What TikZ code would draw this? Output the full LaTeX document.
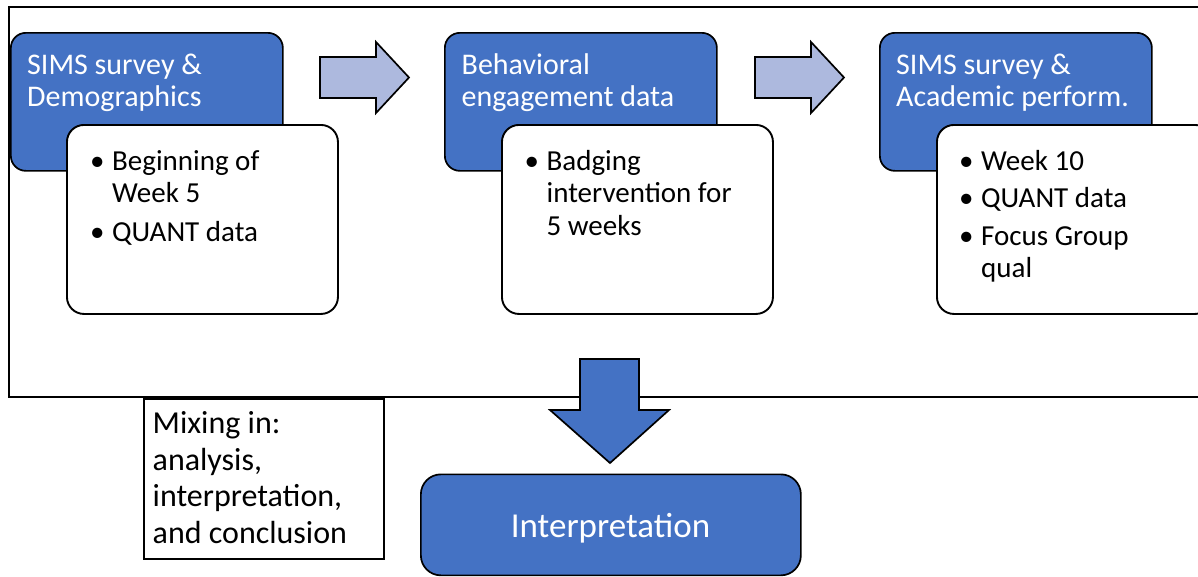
\documentclass[tikz,border=0pt]{standalone}
\usepackage{fontspec}
\setmainfont{Carlito}
\definecolor{accent}{HTML}{4472C4}
\definecolor{lightarrow}{RGB}{173,185,222}

% bullet cell of a list
\newcommand\bul{\makebox[22pt][l]{\textbullet}}

\tikzset{
  phase/.style={draw=black, line width=1.7pt, fill=accent, rounded corners=15pt,
    minimum width=272pt, minimum height=138pt, anchor=north west, inner sep=0pt},
  detail/.style={draw=black, line width=1.9pt, fill=white, rounded corners=17pt,
    minimum width=271pt, minimum height=189pt, anchor=north west, inner sep=0pt},
  headtext/.style={text=white, anchor=base west, inner sep=0pt,
    font=\fontsize{30}{32.5}\selectfont},
  listtext/.style={text=black, anchor=base west, inner sep=0pt,
    font=\fontsize{29}{32.5}\selectfont},
  blockarrow/.style={draw=black, line width=1.7pt, fill=lightarrow, line join=miter},
  downarrow/.style={draw=black, line width=1.7pt, fill=accent, line join=miter},
}

\begin{document}
\begin{tikzpicture}[x=1pt, y=-1pt]
  \clip (0,0) rectangle (1198,576);
  \fill[white] (0,0) rectangle (1198,576);

  % outer frame of the data collection phases
  \draw[line width=2pt] (1215,7) -- (9,7) -- (9,397) -- (1215,397);

  % phase 1
  \node[phase] (p1) at (10,32) {};
  \node[headtext] (p1t) at (27,74) {\begin{tabular}[t]{@{}l@{}}SIMS survey \&\\Demographics\end{tabular}};
  \node[detail] (d1) at (66,124) {};
  \node[listtext] (d1t) at (90,170) {\begin{tabular}[t]{@{}l@{}l@{}}
    \bul & Beginning of\\ & Week 5\\[6pt]
    \bul & QUANT data\end{tabular}};

  % phase 2
  \node[phase] (p2) at (444,32) {};
  \node[headtext] (p2t) at (461.5,74) {\begin{tabular}[t]{@{}l@{}}Behavioral\\engagement data\end{tabular}};
  \node[detail] (d2) at (501,124) {};
  \node[listtext] (d2t) at (524.5,170) {\begin{tabular}[t]{@{}l@{}l@{}}
    \bul & Badging\\ & intervention for\\ & 5 weeks\end{tabular}};

  % phase 3
  \node[phase] (p3) at (879,32) {};
  \node[headtext] (p3t) at (896,74) {\begin{tabular}[t]{@{}l@{}}SIMS survey \&\\Academic perform.\end{tabular}};
  \node[detail, minimum width=275pt] (d3) at (936,124) {};
  \node[listtext] (d3t) at (959,170) {\begin{tabular}[t]{@{}l@{}l@{}}
    \bul & Week 10\\[5pt]
    \bul & QUANT data\\[5pt]
    \bul & Focus Group\\ & qual\end{tabular}};

  % arrows between phases
  \draw[blockarrow] (320,57) -- (376,57) -- (376,42) -- (409,77.5) -- (376,113)
    -- (376,98) -- (320,98) -- cycle;
  \draw[blockarrow] (755,57) -- (811,57) -- (811,42) -- (844,77.5) -- (811,113)
    -- (811,98) -- (755,98) -- cycle;

  % mixing note
  \node[draw=black, line width=1.5pt, fill=white, minimum width=240pt, minimum height=160pt,
    anchor=north west, inner sep=0pt] (mix) at (143,398) {};
  \node[text=black, anchor=base west, inner sep=0pt, font=\fontsize{32}{36.7}\selectfont]
    (mixt) at (152.5,433.3) {\begin{tabular}[t]{@{}l@{}}Mixing in:\\analysis,\\interpretation,\\and conclusion\end{tabular}};

  % arrow into interpretation
  \draw[downarrow] (580,359) -- (639,359) -- (639,410) -- (669,410) -- (610,463)
    -- (550,410) -- (580,410) -- cycle;

  % interpretation
  \node[phase, minimum width=380pt, minimum height=101pt, rounded corners=20pt] (interp) at (420,473.5) {};
  \node[text=white, anchor=base, inner sep=0pt, font=\fontsize{35}{40}\selectfont]
    (interpt) at (610.5,537.5) {Interpretation};
\end{tikzpicture}
\end{document}
